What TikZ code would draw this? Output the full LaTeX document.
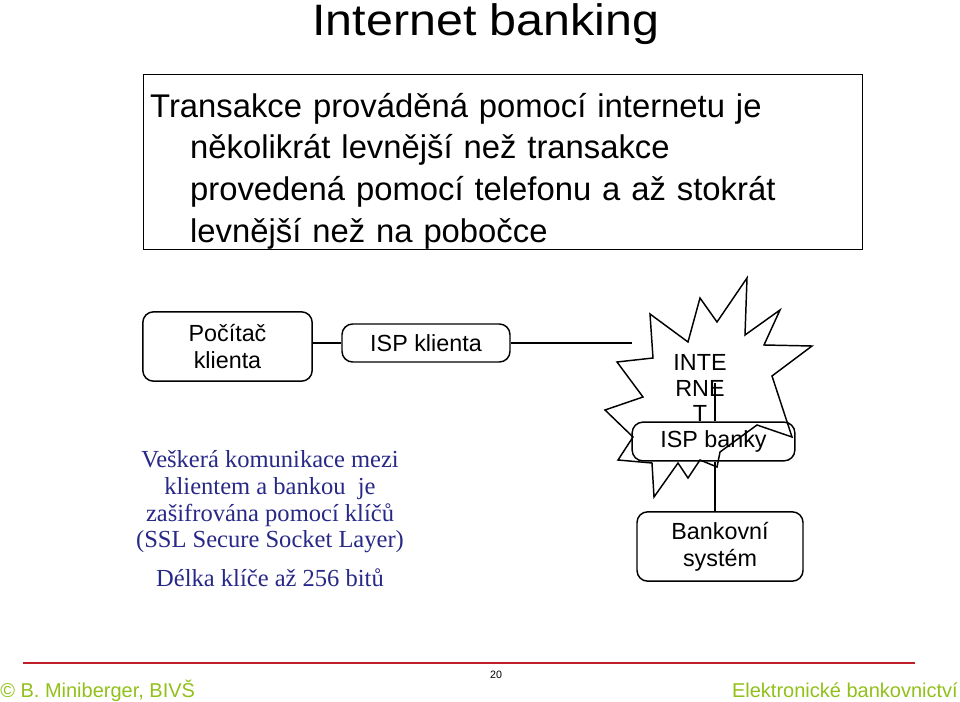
\documentclass[tikz,border=0pt]{standalone}
\usepackage{fontspec}
\setmainfont{Liberation Sans}
\newfontfamily\titlefont[FakeStretch=1.1]{Liberation Sans}
\newfontfamily\timesfont{Liberation Serif}
\definecolor{sslblue}{RGB}{40,40,135}
\definecolor{footgreen}{RGB}{145,192,25}
\definecolor{footred}{RGB}{192,30,40}

\begin{document}
\begin{tikzpicture}[x=0.75pt,y=-0.75pt]
        \tikzstyle{every node} = [inner sep=0pt]
        \tikzstyle{box} = [draw, rounded corners=8pt, line width=1.1pt, align=center,
                font=\fontsize{17.5}{20}\selectfont]
        \tikzstyle{link} = [line width=1.5pt]
        \useasboundingbox (0,0) rectangle (960,702);
        \node[anchor=base, font=\titlefont\fontsize{33}{40}\selectfont] (title) at (486,36) {Internet banking};
        \node[draw, line width=0.8pt, anchor=north west, minimum width=539pt, minimum height=131pt,
                inner xsep=5pt, text width=529pt, text height=32pt, align=left,
                font=\fontsize{24.6}{31.3}\selectfont] (cost) at (143,74)
                {Transakce prováděná pomocí internetu je\\
                \hspace*{30pt}několikrát levnější než transakce\\
                \hspace*{30pt}provedená pomocí telefonu a až stokrát\\
                \hspace*{30pt}levnější než na pobočce};
        \node[box, minimum width=127pt, minimum height=52pt] (pc) at (227.5,346.5) {Počítač\\klienta};
        \node[box, minimum width=126pt, minimum height=28.5pt] (ispk) at (426,343) {ISP klienta};
        \draw[line width=1.1pt, line join=miter]
                (650,314) -- (688,342) -- (700,298) -- (717,322) -- (747,278) -- (745,335)
                -- (780,310) -- (764,345) -- (812,346) -- (772,376) -- (792,437) -- (757,425)
                -- (720,452) -- (717,467) -- (700,460) -- (688,478) -- (678,463) -- (654,497)
                -- (652,463) -- (618,460) -- (633,437) -- (605,410) -- (643,397) -- (617,362)
                -- (653,358) -- cycle;
        \node[align=center, font=\fontsize{17.5}{19}\selectfont] (inet) at (700,388) {INTE\\RNE\\T};
        \coordinate (cloud) at (632,343);
        \coordinate (inetc) at (715,383);
        \node[box, minimum width=122pt, minimum height=29pt] (banky) at (713.5,441.5) {ISP banky};
        \node[box, minimum width=124.5pt, minimum height=52pt] (bank) at (720,546.5) {Bankovní\\systém};
        \draw[link] (pc.east |- ispk) -- (ispk.west);
        \draw[link] (ispk.east) -- (cloud);
        \draw[link] (inetc) -- (inetc |- banky.north);
        \draw[link] (inetc |- banky.south) -- (inetc |- bank.north);
        \node[align=center, text=sslblue, font=\timesfont\fontsize{18.4}{20}\selectfont] (ssl) at (270,502)
                {Veškerá komunikace mezi\\klientem a bankou\ \ je\\zašifrována pomocí klíčů\\(SSL Secure Socket Layer)};
        \node[anchor=base, text=sslblue, font=\timesfont\fontsize{18.4}{20}\selectfont] (keylen) at (270,586)
                {Délka klíče až 256 bitů};
        \coordinate (rulel) at (23,663);
        \coordinate (ruler) at (915,663);
        \draw[footred, line width=1.6pt] (rulel) -- (ruler);
        \node[font=\fontsize{8}{9}\selectfont] (page) at (496,675) {20};
        \node[anchor=base west, text=footgreen, font=\fontsize{15}{17}\selectfont] (author) at (0,697)
                {© B. Miniberger, BIVŠ};
        \node[anchor=base east, text=footgreen, font=\fontsize{15}{17}\selectfont] (course) at (958,697)
                {Elektronické bankovnictví};
    \end{tikzpicture}
\end{document}
